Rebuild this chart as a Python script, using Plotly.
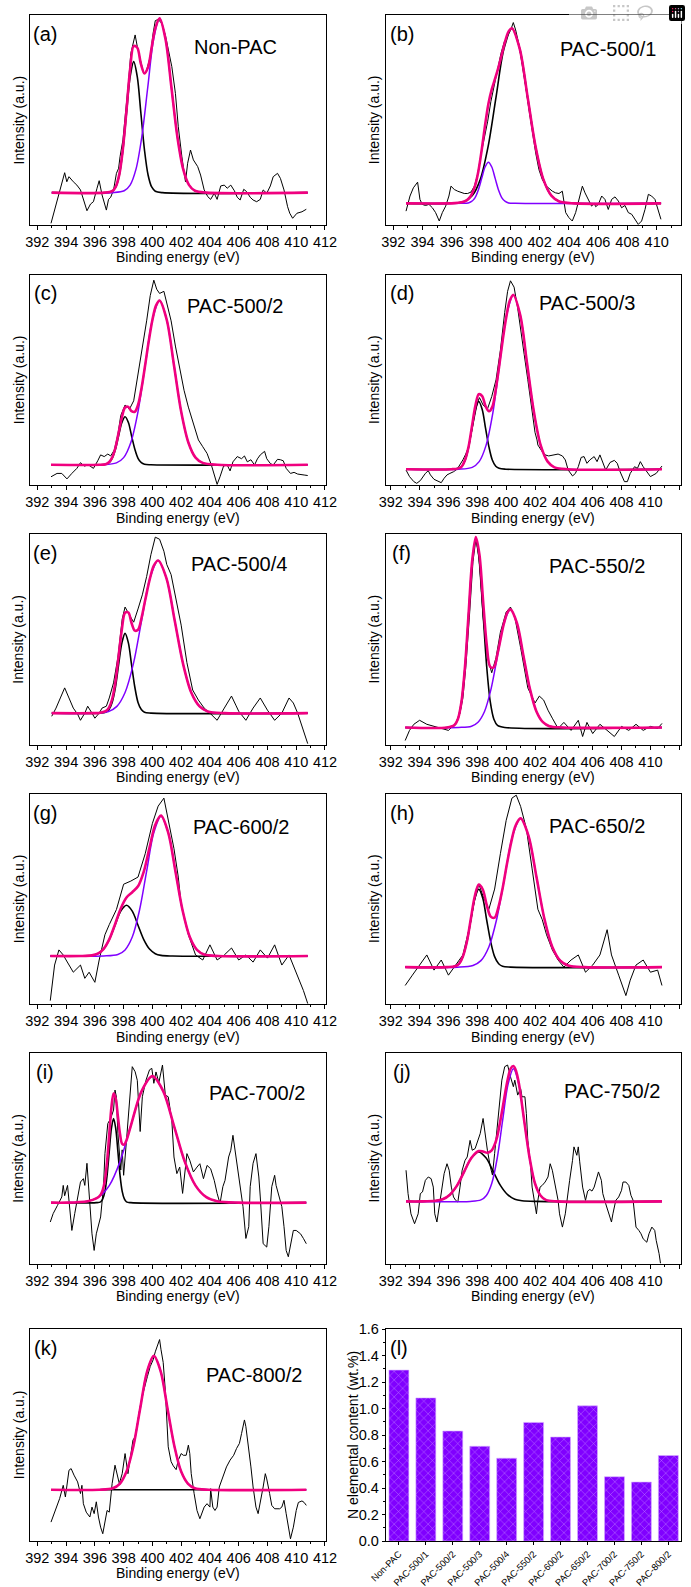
import plotly.graph_objects as go

# ---------------- data (binding energy eV, intensity in % of panel height) -------------
a_raw = [(392.95,0.8),(393.25,8.7),(393.55,16.7),(393.9,24.9),(394.05,20.6),(394.2,23.0),(394.5,20.6),(394.75,19.0),(395.0,16.7),(395.2,12.7),(395.45,6.8),(395.7,10.0),(395.9,11.1),(396.15,17.5),(396.3,21.1),(396.5,14.3),(396.65,10.3),(396.8,7.1),(396.95,12.2),(397.1,13.2),(397.3,16.7),(397.5,24.6),(397.65,27.0),(397.75,32.5),(397.95,40.5),(398.15,53.2),(398.35,69.0),(398.5,81.7),(398.7,88.1),(398.8,90.5),(398.95,84.9),(399.15,78.6),(399.4,71.9),(399.6,73.8),(399.85,80.2),(400.05,91.3),(400.2,97.3),(400.4,97.9),(400.65,96.0),(400.9,90.5),(401.1,83.3),(401.35,75.4),(401.6,62.7),(401.8,46.8),(402.05,32.5),(402.3,20.6),(402.45,29.4),(402.65,35.7),(402.85,31.0),(403.15,27.8),(403.35,23.8),(403.6,16.7),(403.85,13.5),(404.05,12.2),(404.3,15.1),(404.5,12.2),(404.75,18.6),(405.0,19.0),(405.2,17.5),(405.45,19.0),(405.7,16.3),(405.9,13.2),(406.1,11.9),(406.35,17.0),(406.55,15.9),(406.8,13.2),(407.0,11.9),(407.25,11.1),(407.5,12.2),(407.7,16.7),(407.95,15.1),(408.2,18.6),(408.4,23.0),(408.7,24.6),(408.9,22.2),(409.15,16.7),(409.4,8.7),(409.55,5.6),(409.75,3.2),(410.05,5.6),(410.4,6.3),(410.7,7.5)]
a_blk = [(393.0,15.4),(396.7,15.4),(397.2,16.1),(397.45,18.1),(397.7,23.8),(397.95,35.7),(398.2,53.2),(398.45,70.5),(398.7,77.8),(398.95,70.5),(399.2,53.2),(399.45,35.7),(399.7,23.8),(399.95,18.1),(400.2,16.1),(400.7,15.4),(410.8,15.4)]
a_pur = [(393.0,15.4),(397.22,15.4),(398.04,16.3),(398.45,19.0),(398.86,26.6),(399.27,42.3),(399.68,65.7),(400.09,88.6),(400.5,98.4),(400.91,88.6),(401.32,65.7),(401.73,42.3),(402.14,26.6),(402.55,19.0),(402.96,16.3),(403.78,15.4),(410.8,15.4)]
a_env = [(393.0,15.4),(396.7,15.4),(397.2,16.1),(397.45,18.2),(397.7,24.1),(397.95,36.4),(398.2,54.8),(398.45,74.1),(398.7,85.2),(398.95,84.4),(399.2,76.7),(399.45,72.2),(399.7,75.2),(399.95,84.5),(400.2,93.6),(400.5,98.4),(400.91,88.6),(401.32,65.7),(401.73,42.3),(402.14,26.6),(402.55,19.0),(402.96,16.3),(403.78,15.4),(410.8,15.4)]

b_raw = [(392.87,6.6),(393.14,13.8),(393.37,17.7),(393.66,20.4),(393.82,12.2),(393.98,9.8),(394.2,9.3),(394.44,9.8),(394.67,8.2),(394.89,5.9),(395.14,1.9),(395.35,5.9),(395.58,9.0),(395.8,13.8),(395.94,18.5),(396.17,16.9),(396.4,16.1),(396.62,15.7),(396.85,15.0),(397.08,15.0),(397.31,15.7),(397.54,18.5),(397.76,24.1),(397.99,33.5),(398.22,40.7),(398.45,49.4),(398.67,58.9),(398.9,66.8),(399.13,74.7),(399.36,81.8),(399.59,87.3),(399.81,90.5),(400.04,93.2),(400.2,96.4),(400.36,92.9),(400.59,85.8),(400.82,76.3),(401.04,66.0),(401.27,54.9),(401.5,43.8),(401.73,34.3),(401.95,26.4),(402.18,21.7),(402.41,18.8),(402.64,17.2),(402.87,16.1),(403.09,15.3),(403.32,15.0),(403.55,16.1),(403.64,12.2),(403.78,5.9),(404.0,3.5),(404.23,1.9),(404.46,5.9),(404.69,12.2),(404.92,18.5),(405.1,15.3),(405.33,12.2),(405.55,9.0),(405.74,10.3),(405.83,8.7),(406.01,9.8),(406.24,13.8),(406.46,12.2),(406.69,7.4),(406.92,12.2),(407.15,13.4),(407.38,11.4),(407.6,8.2),(407.83,9.3),(408.06,5.9),(408.29,5.1),(408.52,2.7),(408.74,0.3),(408.97,1.9),(409.2,7.4),(409.43,14.6),(409.65,13.8),(409.88,12.2),(410.11,7.4),(410.29,2.7)]
b_blk = [(392.87,10.3),(395.78,10.3),(396.86,11.2),(397.4,14.0),(397.94,21.6),(398.48,37.4),(399.02,60.9),(399.56,83.9),(400.1,93.7),(400.64,83.9),(401.18,60.9),(401.72,37.4),(402.26,21.6),(402.8,14.0),(403.34,11.2),(404.42,10.3),(410.3,10.3)]
b_pur = [(392.87,10.3),(396.66,10.3),(397.12,10.5),(397.35,11.2),(397.58,12.95),(397.81,16.7),(398.04,22.2),(398.27,27.6),(398.5,29.9),(398.73,27.6),(398.96,22.2),(399.19,16.7),(399.42,12.95),(399.65,11.2),(399.88,10.5),(400.34,10.3),(410.3,10.3)]
b_env = [(392.87,10.3),(396.2,10.4),(396.66,10.8),(396.89,11.3),(397.12,12.4),(397.35,14.5),(397.58,18.5),(397.81,25.5),(398.04,35.7),(398.27,47.5),(398.5,57.7),(398.73,64.7),(398.96,69.8),(399.19,75.2),(399.42,81.4),(399.65,87.7),(399.88,92.2),(400.1,93.7),(400.64,83.9),(401.18,60.9),(401.72,37.4),(402.26,21.6),(402.8,14.0),(403.34,11.2),(404.42,10.3),(410.3,10.3)]

c_raw = [(392.95,3.9),(393.37,5.5),(393.7,5.5),(394.06,2.9),(394.4,5.5),(394.75,7.9),(395.0,10.6),(395.26,9.0),(395.56,9.5),(395.9,7.9),(396.2,11.5),(396.4,14.3),(396.65,13.5),(396.9,14.7),(397.1,13.8),(397.35,16.6),(397.6,24.0),(397.8,33.0),(398.1,38.0),(398.4,36.0),(398.7,40.0),(399.0,52.7),(399.3,64.0),(399.6,78.0),(399.85,90.0),(400.1,97.3),(400.3,93.0),(400.5,91.0),(400.8,92.0),(401.0,86.0),(401.3,78.0),(401.6,66.0),(401.9,55.0),(402.2,45.0),(402.5,37.0),(402.8,30.0),(403.0,25.0),(403.2,21.4),(403.5,18.2),(403.8,15.0),(404.1,9.5),(404.35,3.9),(404.5,0.3),(404.7,3.9),(404.95,9.0),(405.2,9.5),(405.4,6.7),(405.6,11.0),(405.9,13.5),(406.2,12.5),(406.4,13.8),(406.6,11.0),(406.85,12.0),(407.1,9.5),(407.3,12.4),(407.5,14.3),(407.8,16.0),(407.95,12.5),(408.2,10.2),(408.4,9.5),(408.7,12.2),(408.9,12.0),(409.1,11.5),(409.3,7.9),(409.6,5.5),(409.85,6.0),(410.1,5.2),(410.6,4.7),(410.8,4.5)]
c_blk = [(392.95,9.6),(396.3,9.6),(396.75,9.85),(396.98,10.6),(397.2,12.7),(397.43,17.0),(397.65,23.4),(397.88,29.7),(398.1,32.4),(398.33,29.7),(398.55,23.4),(398.78,17.0),(399.0,12.7),(399.23,10.6),(399.45,9.85),(399.9,9.6),(410.8,9.6)]
c_pur = [(392.95,9.6),(396.5,9.6),(397.5,10.5),(398.0,13.0),(398.5,20.2),(399.0,34.9),(399.5,56.9),(400.0,78.4),(400.5,87.6),(401.0,78.4),(401.5,56.9),(402.0,34.9),(402.5,20.2),(403.0,13.0),(403.5,10.5),(404.5,9.6),(410.8,9.6)]
c_env = [(392.95,9.6),(396.3,9.6),(396.75,9.9),(396.98,10.8),(397.2,13.0),(397.43,17.7),(397.65,24.8),(397.88,32.2),(398.1,36.8),(398.33,37.1),(398.55,35.1),(398.78,34.8),(399.0,38.0),(399.25,46.2),(399.5,57.1),(399.75,68.5),(400.0,78.4),(400.25,85.2),(400.5,87.6),(401.0,78.4),(401.5,56.9),(402.0,34.9),(402.5,20.2),(403.0,13.0),(403.5,10.5),(404.5,9.6),(410.8,9.6)]

d_raw = [(393.06,7.1),(393.3,4.0),(393.6,1.6),(393.8,0.8),(394.05,2.1),(394.4,5.5),(394.6,6.8),(394.75,4.8),(395.0,2.7),(395.3,1.6),(395.5,1.1),(395.7,3.2),(395.9,4.8),(396.1,5.5),(396.35,6.3),(396.6,7.5),(396.8,9.5),(397.0,11.9),(397.2,14.7),(397.4,18.2),(397.6,25.0),(397.8,32.0),(398.0,39.0),(398.15,41.5),(398.4,38.0),(398.7,36.0),(399.0,42.0),(399.3,50.0),(399.6,64.0),(399.9,82.0),(400.1,92.0),(400.3,97.0),(400.55,94.0),(400.8,84.0),(401.0,75.0),(401.25,62.0),(401.5,50.0),(401.8,35.0),(402.0,25.0),(402.14,21.4),(402.2,19.0),(402.5,15.8),(402.7,14.3),(402.95,13.8),(403.3,14.3),(403.6,14.7),(403.9,13.8),(404.1,11.9),(404.3,7.1),(404.6,4.3),(404.8,5.5),(405.0,8.7),(405.2,13.1),(405.4,13.5),(405.6,10.3),(405.8,11.9),(406.1,13.5),(406.3,11.1),(406.5,14.3),(406.7,10.3),(406.9,7.1),(407.2,10.7),(407.5,11.7),(407.7,10.3),(407.9,6.3),(408.2,1.6),(408.4,1.6),(408.6,5.5),(408.9,8.7),(409.1,7.9),(409.3,11.1),(409.5,8.7),(409.8,5.5),(410.0,4.0),(410.4,5.5),(410.8,9.0)]
d_blk = [(393.06,7.5),(396.22,7.5),(396.69,7.9),(396.93,8.9),(397.16,11.9),(397.4,18.0),(397.63,27.0),(397.87,35.9),(398.1,39.7),(398.34,35.9),(398.57,27.0),(398.81,18.0),(399.04,11.9),(399.28,8.9),(399.51,7.9),(399.98,7.5),(410.8,7.5)]
d_pur = [(393.06,7.5),(396.7,7.5),(397.65,8.4),(398.13,11.1),(398.6,18.7),(399.08,34.4),(399.55,57.7),(400.03,80.6),(400.5,90.3),(400.98,80.6),(401.45,57.7),(401.93,34.4),(402.4,18.7),(402.88,11.1),(403.35,8.4),(404.3,7.5),(410.8,7.5)]
d_env = [(393.06,7.5),(396.22,7.5),(396.69,7.9),(396.93,8.9),(397.16,12.1),(397.4,18.4),(397.63,27.9),(397.87,37.7),(398.1,43.1),(398.34,42.2),(398.57,37.5),(398.81,35.0),(399.04,37.1),(399.28,45.4),(399.51,56.2),(399.75,68.3),(400.0,79.5),(400.25,87.5),(400.5,90.3),(400.98,80.6),(401.45,57.7),(401.93,34.4),(402.4,18.7),(402.88,11.1),(403.35,8.4),(404.3,7.5),(410.8,7.5)]

e_raw = [(393.0,13.4),(393.3,17.3),(393.6,22.1),(393.9,26.9),(394.2,22.1),(394.5,17.3),(394.8,14.4),(395.0,11.5),(395.3,14.9),(395.5,18.2),(395.8,14.9),(396.0,12.5),(396.3,14.9),(396.5,17.3),(396.8,18.2),(397.0,22.1),(397.3,29.3),(397.6,41.3),(397.9,59.6),(398.1,65.3),(398.4,61.5),(398.7,58.1),(399.0,64.4),(399.3,71.1),(399.6,79.8),(399.9,90.3),(400.2,98.5),(400.5,97.5),(400.8,91.8),(401.0,85.5),(401.3,80.7),(401.6,71.1),(402.0,56.7),(402.4,38.9),(402.8,25.9),(403.2,21.1),(403.6,17.3),(404.0,14.9),(404.5,11.5),(405.0,17.3),(405.5,23.0),(405.8,18.7),(406.0,15.8),(406.5,11.5),(407.0,17.3),(407.5,22.1),(408.0,16.3),(408.5,11.5),(409.0,14.9),(409.5,22.1),(409.8,19.7),(410.1,14.9),(410.4,8.6),(410.8,0.4)]
e_blk = [(393.0,14.9),(396.3,14.9),(396.75,15.3),(396.98,16.6),(397.2,20.0),(397.43,27.2),(397.65,37.9),(397.88,48.3),(398.1,52.8),(398.33,48.3),(398.55,37.9),(398.78,27.2),(399.0,20.0),(399.23,16.6),(399.45,15.3),(399.9,14.9),(410.8,14.9)]
e_pur = [(393.0,14.9),(395.8,14.9),(396.95,15.7),(397.53,18.1),(398.1,24.7),(398.68,38.4),(399.25,58.9),(399.83,78.9),(400.4,87.4),(400.98,78.9),(401.55,58.9),(402.13,38.4),(402.7,24.7),(403.28,18.1),(403.85,15.7),(405.0,14.9),(410.8,14.9)]
e_env = [(393.0,14.9),(395.8,14.9),(396.3,15.0),(396.75,15.8),(396.98,17.5),(397.2,21.5),(397.43,29.8),(397.65,42.0),(397.88,54.9),(398.1,62.6),(398.33,62.7),(398.55,57.7),(398.78,54.1),(399.0,54.5),(399.25,60.3),(399.5,68.6),(399.83,78.9),(400.1,85.0),(400.4,87.4),(400.98,78.9),(401.55,58.9),(402.13,38.4),(402.7,24.7),(403.28,18.1),(403.85,15.7),(405.0,14.9),(410.8,14.9)]

f_raw = [(393.0,1.9),(393.3,6.7),(393.6,9.6),(394.0,11.5),(394.5,9.6),(395.0,8.6),(395.5,7.6),(396.0,6.7),(396.5,10.0),(396.8,14.9),(397.0,22.1),(397.2,36.5),(397.45,60.5),(397.7,86.9),(397.9,97.5),(398.1,89.4),(398.4,60.5),(398.7,41.3),(399.0,34.1),(399.3,41.3),(399.6,53.3),(400.0,62.9),(400.3,65.3),(400.6,60.5),(401.0,46.1),(401.5,26.9),(402.0,19.7),(402.3,23.0),(402.6,21.1),(402.9,16.3),(403.2,12.5),(403.6,7.6),(404.0,10.5),(404.5,6.7),(405.0,11.5),(405.3,3.8),(405.6,10.5),(406.0,5.2),(406.5,9.6),(407.0,6.7),(407.5,3.8),(408.0,8.6),(408.5,6.7),(409.0,9.6),(409.5,6.7),(410.0,8.6),(410.5,7.6),(410.8,10.0)]
f_blk = [(393.0,8.1),(395.9,8.1),(396.4,9.1),(396.65,12.0),(396.9,20.2),(397.15,37.1),(397.4,62.3),(397.65,86.9),(397.9,97.4),(398.15,86.9),(398.4,62.3),(398.65,37.1),(398.9,20.2),(399.15,12.0),(399.4,9.1),(399.9,8.1),(410.8,8.1)]
f_pur = [(393.0,8.1),(396.7,8.1),(397.6,8.7),(398.05,10.6),(398.5,15.7),(398.95,26.3),(399.4,42.1),(399.85,57.6),(400.3,64.2),(400.75,57.6),(401.2,42.1),(401.65,26.3),(402.1,15.7),(402.55,10.6),(403.0,8.7),(403.9,8.1),(410.8,8.1)]
f_env = [(393.0,8.1),(395.9,8.1),(396.4,9.1),(396.65,12.0),(396.9,20.2),(397.15,37.2),(397.4,62.6),(397.65,87.6),(397.9,98.6),(398.15,90.1),(398.4,68.3),(398.65,47.6),(398.9,36.9),(399.15,36.7),(399.4,43.1),(399.6,49.7),(399.85,57.6),(400.1,62.9),(400.3,64.2),(400.75,57.6),(401.2,42.1),(401.65,26.3),(402.1,15.7),(402.55,10.6),(403.0,8.7),(403.9,8.1),(410.8,8.1)]

g_raw = [(392.9,1.6),(393.2,18.5),(393.5,25.7),(393.8,23.3),(394.0,20.9),(394.5,15.1),(395.0,18.5),(395.3,12.2),(395.6,15.1),(396.0,10.3),(396.3,20.9),(396.7,32.9),(397.0,37.7),(397.5,44.9),(398.0,56.9),(398.5,58.4),(399.0,60.3),(399.5,71.4),(400.0,85.8),(400.4,94.0),(400.8,97.8),(401.1,88.2),(401.5,73.8),(401.8,60.3),(402.0,47.3),(402.5,32.9),(403.0,23.3),(403.5,20.9),(404.0,28.1),(404.5,20.9),(405.0,23.3),(405.5,26.6),(406.0,20.9),(406.5,23.3),(407.0,19.9),(407.5,25.7),(408.0,21.8),(408.5,28.1),(409.0,18.5),(409.5,23.3),(410.0,15.1),(410.5,6.4),(410.8,0.2)]
g_blk = [(392.9,22.8),(395.0,22.8),(395.8,23.1),(396.2,23.9),(396.6,26.1),(397.0,30.6),(397.4,37.4),(397.8,44.1),(398.2,46.9),(398.6,44.1),(399.0,37.4),(399.4,30.6),(399.8,26.1),(400.2,23.9),(400.6,23.1),(401.4,22.8),(410.8,22.8)]
g_pur = [(392.9,22.8),(396.6,22.8),(397.6,23.5),(398.1,25.7),(398.6,31.8),(399.1,44.4),(399.6,63.1),(400.1,81.4),(400.6,89.2),(401.1,81.4),(401.6,63.1),(402.1,44.4),(402.6,31.8),(403.1,25.7),(403.6,23.5),(404.6,22.8),(410.8,22.8)]
g_env = [(392.9,22.8),(395.0,22.8),(395.8,23.1),(396.2,23.9),(396.6,26.1),(397.0,30.7),(397.4,37.8),(397.8,45.4),(398.2,50.6),(398.6,53.1),(399.0,55.9),(399.4,62.9),(399.8,74.3),(400.2,85.2),(400.6,89.5),(401.1,81.4),(401.6,63.1),(402.1,44.4),(402.6,31.8),(403.1,25.7),(403.6,23.5),(404.6,22.8),(410.8,22.8)]

h_raw = [(393.0,8.8),(393.3,12.0),(393.5,13.7),(394.0,18.5),(394.5,23.3),(395.0,16.1),(395.5,20.9),(396.0,13.7),(396.5,18.5),(397.0,23.3),(397.5,37.7),(397.8,48.8),(398.1,57.0),(398.4,51.2),(398.8,45.0),(399.2,54.6),(399.6,71.4),(400.0,87.2),(400.4,97.8),(400.7,99.2),(401.0,93.9),(401.4,83.4),(401.8,64.2),(402.2,45.0),(402.5,40.1),(402.8,32.9),(403.2,25.7),(403.6,20.9),(404.0,17.5),(404.5,20.9),(405.0,23.3),(405.5,15.1),(406.0,18.5),(406.5,23.3),(407.0,35.3),(407.3,23.3),(407.8,13.7),(408.3,4.0),(408.6,11.3),(409.0,18.5),(409.5,20.9),(410.0,15.1),(410.5,16.1),(410.8,8.8)]
h_blk = [(393.0,17.5),(395.9,17.5),(396.45,17.9),(396.73,19.1),(397.0,22.5),(397.28,29.5),(397.55,39.9),(397.83,50.2),(398.1,54.5),(398.38,50.2),(398.65,39.9),(398.93,29.5),(399.2,22.5),(399.48,19.1),(399.75,17.9),(400.3,17.5),(410.8,17.5)]
h_pur = [(393.0,17.5),(396.6,17.5),(397.7,18.3),(398.25,20.6),(398.8,27.1),(399.35,40.5),(399.9,60.4),(400.45,79.9),(401.0,88.2),(401.55,79.9),(402.1,60.4),(402.65,40.5),(403.2,27.1),(403.75,20.6),(404.3,18.3),(405.4,17.5),(410.8,17.5)]
h_env = [(393.0,17.5),(395.9,17.5),(396.45,17.9),(396.73,19.1),(397.0,22.6),(397.28,29.7),(397.55,40.4),(397.83,51.3),(398.1,56.7),(398.38,54.4),(398.65,47.1),(398.93,41.5),(399.2,41.0),(399.48,46.4),(399.75,54.8),(400.05,66.4),(400.35,76.9),(400.65,84.7),(401.0,88.2),(401.55,79.9),(402.1,60.4),(402.65,40.5),(403.2,27.1),(403.75,20.6),(404.3,18.3),(405.4,17.5),(410.8,17.5)]

i_raw = [(392.9,19.7),(393.1,23.7),(393.4,27.6),(393.7,31.6),(393.8,37.1),(393.9,32.2),(394.1,37.1),(394.2,30.0),(394.4,15.7),(394.6,23.7),(394.75,30.0),(395.0,38.7),(395.2,40.3),(395.3,37.1),(395.45,47.6),(395.6,34.9),(395.8,14.1),(395.95,6.2),(396.1,14.1),(396.4,22.1),(396.6,36.5),(396.7,52.2),(396.9,66.5),(397.1,68.9),(397.3,72.9),(397.4,82.4),(397.5,79.0),(397.6,61.9),(397.8,44.4),(397.9,54.0),(398.0,41.9),(398.2,58.6),(398.4,77.6),(398.6,93.5),(398.8,91.1),(398.95,87.0),(399.15,62.7),(399.3,79.2),(399.55,87.0),(399.8,92.0),(399.96,92.7),(400.1,85.6),(400.25,91.0),(400.45,86.0),(400.7,94.3),(400.9,80.0),(401.1,79.2),(401.35,68.0),(401.5,50.6),(401.7,42.7),(401.9,45.8),(402.1,33.3),(402.3,45.8),(402.4,52.2),(402.6,49.0),(402.85,43.5),(403.1,45.8),(403.3,47.4),(403.55,40.3),(403.8,46.6),(404.05,45.0),(404.3,39.5),(404.5,33.3),(404.7,28.5),(404.9,36.5),(405.05,39.5),(405.3,50.6),(405.45,53.8),(405.6,60.9),(405.8,50.6),(406.0,42.7),(406.15,34.9),(406.3,27.0),(406.5,11.9),(406.7,17.5),(406.8,36.5),(407.0,47.6),(407.2,52.2),(407.4,41.1),(407.5,31.6),(407.7,9.4),(407.95,7.8),(408.1,17.5),(408.3,36.5),(408.5,41.9),(408.6,37.1),(408.8,31.6),(409.0,27.0),(409.15,17.5),(409.3,6.2),(409.45,3.2),(409.6,9.4),(409.8,15.7),(410.0,15.7),(410.3,14.1),(410.5,11.9),(410.7,9.4)]
i_blk = [(392.95,28.9),(396.1,28.9),(396.4,29.3),(396.55,30.7),(396.7,34.3),(396.85,41.9),(397.0,53.2),(397.15,64.2),(397.3,68.9),(397.45,64.2),(397.6,53.2),(397.75,41.9),(397.9,34.3),(398.05,30.7),(398.2,29.3),(398.5,28.9),(410.7,28.9)]
i_pur = [(392.95,28.9),(394.0,28.9),(395.5,29.6),(396.25,31.5),(397.0,37.0),(397.75,48.4),(398.5,65.4),(399.25,81.9),(400.0,89.0),(400.75,81.9),(401.5,65.4),(402.25,48.4),(403.0,37.0),(403.75,31.5),(404.5,29.6),(406.0,28.9),(410.7,28.9)]
i_env = [(392.95,28.9),(394.0,28.9),(395.5,29.6),(396.1,30.9),(396.4,32.7),(396.55,35.0),(396.7,39.6),(396.85,48.5),(397.0,61.3),(397.15,74.1),(397.3,80.8),(397.45,78.4),(397.6,69.9),(397.75,61.4),(397.9,56.8),(398.05,56.5),(398.2,58.6),(398.5,65.4),(399.25,81.9),(400.0,89.0),(400.75,81.9),(401.5,65.4),(402.25,48.4),(403.0,37.0),(403.75,31.5),(404.5,29.6),(406.0,28.9),(410.7,28.9)]

j_raw = [(393.06,44.3),(393.2,33.2),(393.4,23.6),(393.65,18.9),(393.9,23.6),(394.05,33.2),(394.2,34.0),(394.4,39.5),(394.6,41.1),(394.8,40.3),(394.95,36.3),(395.05,23.6),(395.2,19.7),(395.35,26.8),(395.5,33.2),(395.7,42.7),(395.9,47.4),(396.05,44.3),(396.2,36.3),(396.35,31.6),(396.5,30.0),(396.65,29.2),(396.8,36.3),(396.95,44.3),(397.15,49.0),(397.3,50.6),(397.5,58.5),(397.65,53.8),(397.85,54.6),(398.0,57.8),(398.2,61.7),(398.4,68.9),(398.5,63.3),(398.7,53.8),(398.9,46.0),(399.05,42.0),(399.2,52.2),(399.4,64.9),(399.6,77.6),(399.7,87.1),(399.9,93.5),(400.1,94.3),(400.3,88.7),(400.5,84.0),(400.6,87.1),(400.8,80.0),(401.0,83.2),(401.1,79.2),(401.3,79.2),(401.4,71.3),(401.5,58.5),(401.7,46.0),(401.8,36.3),(402.0,26.8),(402.1,23.6),(402.2,30.0),(402.35,36.3),(402.5,37.1),(402.7,38.7),(402.9,41.1),(403.05,47.4),(403.2,44.3),(403.4,36.3),(403.6,30.0),(403.7,23.6),(403.9,17.3),(404.1,23.6),(404.25,33.2),(404.4,39.5),(404.6,49.0),(404.7,55.4),(404.9,51.4),(405.0,55.4),(405.1,48.3),(405.3,36.3),(405.5,30.0),(405.65,34.4),(405.8,35.2),(405.95,34.4),(406.1,36.3),(406.3,41.1),(406.4,43.5),(406.6,39.5),(406.7,33.2),(406.9,28.4),(407.1,23.6),(407.3,19.7),(407.4,23.6),(407.6,30.0),(407.8,31.6),(408.0,34.8),(408.1,38.7),(408.3,38.7),(408.5,37.1),(408.65,32.4),(408.8,30.0),(409.0,17.3),(409.2,15.7),(409.35,14.1),(409.5,11.7),(409.75,10.1),(409.9,14.1),(410.1,17.3),(410.3,15.7),(410.4,11.0),(410.6,4.7),(410.7,0.0)]
j_blk = [(393.06,29.5),(394.1,29.5),(395.1,29.8),(395.6,30.5),(396.1,32.7),(396.6,37.1),(397.1,43.8),(397.6,50.2),(398.1,53.0),(398.6,50.2),(399.1,43.8),(399.6,37.1),(400.1,32.7),(400.6,30.5),(401.1,29.8),(402.1,29.5),(410.8,29.5)]
j_pur = [(393.06,29.5),(397.5,29.5),(398.25,30.2),(398.63,32.3),(399.0,38.0),(399.38,50.0),(399.75,67.7),(400.13,85.1),(400.5,92.5),(400.88,85.1),(401.25,67.7),(401.63,50.0),(402.0,38.0),(402.38,32.3),(402.75,30.2),(403.5,29.5),(410.8,29.5)]
j_env = [(393.06,29.5),(394.1,29.5),(395.1,29.8),(395.6,30.5),(396.1,32.7),(396.6,37.1),(397.1,43.8),(397.6,50.2),(398.1,53.4),(398.4,53.2),(398.7,52.6),(399.0,53.7),(399.2,56.4),(399.38,60.3),(399.56,66.4),(399.75,73.7),(399.94,81.4),(400.13,88.1),(400.31,92.6),(400.5,93.8),(400.69,91.4),(400.88,85.6),(401.06,77.4),(401.25,67.9),(401.63,50.0),(402.0,38.0),(402.38,32.3),(402.75,30.2),(403.5,29.5),(410.8,29.5)]

k_raw = [(392.95,8.7),(393.25,14.2),(393.55,19.8),(393.8,26.1),(393.95,20.6),(394.2,33.2),(394.35,34.0),(394.55,30.9),(394.8,27.7),(395.0,22.2),(395.1,26.1),(395.2,17.4),(395.4,13.4),(395.65,11.1),(395.8,15.8),(395.95,12.7),(396.1,18.3),(396.25,11.1),(396.4,6.3),(396.55,3.2),(396.7,7.9),(396.85,14.2),(397.0,13.4),(397.2,26.9),(397.4,35.6),(397.55,30.4),(397.7,26.9),(397.9,31.6),(398.1,41.1),(398.3,31.6),(398.45,37.9),(398.65,47.5),(398.8,49.0),(399.0,57.9),(399.15,63.3),(399.35,69.6),(399.5,74.4),(399.65,77.5),(399.85,82.3),(400.05,85.4),(400.2,89.2),(400.35,91.8),(400.5,95.0),(400.6,90.2),(400.75,84.2),(400.9,70.9),(401.0,57.0),(401.1,44.3),(401.3,37.3),(401.45,35.3),(401.65,33.5),(401.8,38.0),(402.0,41.1),(402.15,40.3),(402.35,40.3),(402.5,45.1),(402.6,41.1),(402.7,31.6),(402.9,22.2),(403.1,14.2),(403.3,10.3),(403.45,13.4),(403.6,15.8),(403.8,17.4),(404.0,15.8),(404.05,24.5),(404.2,15.8),(404.35,14.2),(404.5,15.8),(404.65,25.3),(404.8,28.5),(405.0,31.6),(405.15,34.8),(405.4,38.0),(405.65,40.3),(405.85,43.5),(406.05,45.9),(406.2,50.6),(406.4,57.0),(406.5,53.8),(406.7,44.3),(406.85,34.8),(407.0,25.3),(407.2,15.8),(407.35,12.7),(407.55,19.0),(407.7,25.3),(407.85,31.6),(407.95,29.1),(408.15,22.2),(408.3,16.6),(408.5,15.0),(408.65,15.0),(408.85,15.0),(409.0,15.8),(409.15,19.0),(409.3,12.7),(409.45,6.3),(409.6,0.8),(409.8,6.3),(410.0,14.2),(410.15,18.0),(410.4,18.7),(410.55,18.0),(410.7,16.6)]
k_blk = [(392.95,24.0),(410.7,24.0)]
k_pur = [(392.95,24.0),(396.3,24.0),(397.25,24.7),(397.73,26.8),(398.2,32.6),(398.68,44.6),(399.15,62.4),(399.63,79.9),(400.1,87.3),(400.58,79.9),(401.05,62.4),(401.53,44.6),(402.0,32.6),(402.48,26.8),(402.95,24.7),(403.9,24.0),(410.7,24.0)]
k_env = [(392.95,24.0),(396.3,24.0),(397.25,24.7),(397.73,26.8),(398.2,32.6),(398.68,44.6),(399.15,62.4),(399.63,79.9),(400.1,87.3),(400.58,79.9),(401.05,62.4),(401.53,44.6),(402.0,32.6),(402.48,26.8),(402.95,24.7),(403.9,24.0),(410.7,24.0)]

samples = ["Non-PAC", "PAC-500/1", "PAC-500/2", "PAC-500/3", "PAC-500/4", "PAC-550/2",
           "PAC-600/2", "PAC-650/2", "PAC-700/2", "PAC-750/2", "PAC-800/2"]
n_content = [1.29, 1.08, 0.83, 0.715, 0.625, 0.895, 0.785, 1.02, 0.485, 0.445, 0.645]

panel_letters = ["(a)", "(b)", "(c)", "(d)", "(e)", "(f)", "(g)", "(h)", "(i)", "(j)", "(k)", "(l)"]
panel_names = ["Non-PAC", "PAC-500/1", "PAC-500/2", "PAC-500/3", "PAC-500/4", "PAC-550/2",
               "PAC-600/2", "PAC-650/2", "PAC-700/2", "PAC-750/2", "PAC-800/2"]
energy_ticks = [392, 394, 396, 398, 400, 402, 404, 406, 408, 410, 412]

# ---------------- layout geometry (pixels) ----------------
W, H = 691, 1587
FONT = "Liberation Sans, Arial, sans-serif"
BLACK = "#000000"
PURPLE = "#8000FF"
MAGENTA = "#F0007F"


def fx(p):
    return p / W


def fy(p):
    return 1 - p / H


COLS = [(30, 326), (385.7, 681)]
ROWS = [(15, 225), (274.5, 485), (534, 744.5), (793.5, 1004), (1053, 1263.5), (1329, 1540.5)]
XRANGE = [[391.49, 412.07], [391.65, 412.12]]
XRANGE_B = [391.48, 411.66]
# name label (centre x px, offset from panel top px)
NAME_POS = [(235, 32), (608, 34), (235, 31), (587, 29), (239, 30), (597, 32),
            (241, 33), (597, 32), (257, 40), (612, 38), (254, 46)]

spectra = [
    (a_raw, a_blk, a_pur, a_env), (b_raw, b_blk, b_pur, b_env),
    (c_raw, c_blk, c_pur, c_env), (d_raw, d_blk, d_pur, d_env),
    (e_raw, e_blk, e_pur, e_env), (f_raw, f_blk, f_pur, f_env),
    (g_raw, g_blk, g_pur, g_env), (h_raw, h_blk, h_pur, h_env),
    (i_raw, i_blk, i_pur, i_env), (j_raw, j_blk, j_pur, j_env),
    (k_raw, k_blk, k_pur, k_env),
]

fig = go.Figure()
annotations = []
layout_axes = {}


def xs(pts):
    return [p[0] for p in pts]


def ys(pts):
    return [p[1] for p in pts]


for idx, (raw, blk, pur, env) in enumerate(spectra):
    n = idx + 1
    col = idx % 2
    row = idx // 2
    x0, x1 = COLS[col]
    y0, y1 = ROWS[row]
    xa = "x" if n == 1 else f"x{n}"
    ya = "y" if n == 1 else f"y{n}"

    fig.add_trace(go.Scatter(x=xs(raw), y=ys(raw), mode="lines", xaxis=xa, yaxis=ya,
                             line=dict(color=BLACK, width=1), showlegend=False))
    fig.add_trace(go.Scatter(x=xs(blk), y=ys(blk), mode="lines", xaxis=xa, yaxis=ya,
                             line=dict(color=BLACK, width=1.6, shape="spline", smoothing=0.9),
                             showlegend=False))
    fig.add_trace(go.Scatter(x=xs(pur), y=ys(pur), mode="lines", xaxis=xa, yaxis=ya,
                             line=dict(color=PURPLE, width=1.5, shape="spline", smoothing=0.9),
                             showlegend=False))
    fig.add_trace(go.Scatter(x=xs(env), y=ys(env), mode="lines", xaxis=xa, yaxis=ya,
                             line=dict(color=MAGENTA, width=2.6, shape="spline", smoothing=0.9),
                             showlegend=False))

    xr = XRANGE_B if idx == 1 else XRANGE[col]
    layout_axes["xaxis" if n == 1 else f"xaxis{n}"] = dict(
        domain=[fx(x0), fx(x1)], range=xr, anchor=ya,
        showline=True, mirror=True, linecolor=BLACK, linewidth=1,
        ticks="outside", ticklen=4, tickwidth=1, tickcolor=BLACK,
        tickmode="array", tickvals=energy_ticks,
        minor=dict(ticks="outside", ticklen=2, tickwidth=1, tickcolor=BLACK, dtick=1, tick0=392),
        tickfont=dict(family=FONT, size=14.5, color=BLACK),
        showgrid=False, zeroline=False, fixedrange=True,
    )
    layout_axes["yaxis" if n == 1 else f"yaxis{n}"] = dict(
        domain=[fy(y1), fy(y0)], range=[0, 100], anchor=xa,
        showline=True, mirror=True, linecolor=BLACK, linewidth=1,
        showticklabels=False, ticks="", showgrid=False, zeroline=False, fixedrange=True,
    )
    # panel letter
    annotations.append(dict(text=panel_letters[idx], xref="paper", yref="paper",
                            x=fx(x0 + 15 if col == 0 else x0 + 16), y=fy(y0 + 19),
                            xanchor="center", yanchor="middle", showarrow=False,
                            font=dict(family=FONT, size=20, color=BLACK)))
    nx, noff = NAME_POS[idx]
    annotations.append(dict(text=panel_names[idx], xref="paper", yref="paper",
                            x=fx(nx), y=fy(y0 + noff), xanchor="center", yanchor="middle",
                            showarrow=False, font=dict(family=FONT, size=20, color=BLACK)))
    # axis titles
    annotations.append(dict(text="Binding energy (eV)", xref="paper", yref="paper",
                            x=fx((x0 + x1) / 2), y=fy(y1 + 32.5), xanchor="center", yanchor="middle",
                            showarrow=False, font=dict(family=FONT, size=14, color=BLACK)))
    annotations.append(dict(text="Intensity (a.u.)", xref="paper", yref="paper",
                            x=fx(x0 - 11.5), y=fy((y0 + y1) / 2), xanchor="center", yanchor="middle",
                            textangle=-90, showarrow=False,
                            font=dict(family=FONT, size=14, color=BLACK)))

# ---------------- bar panel (l) ----------------
bx0, bx1 = COLS[1]
by0, by1 = 1329, 1541
fig.add_trace(go.Bar(
    x=samples, y=n_content, xaxis="x12", yaxis="y12", width=0.74, showlegend=False,
    marker=dict(color=PURPLE, line=dict(color="#D8B0FF", width=0.6),
                pattern=dict(shape="x", fgcolor="white", bgcolor=PURPLE, size=6, solidity=0.15)),
))
layout_axes["xaxis12"] = dict(
    domain=[fx(bx0), fx(bx1)], range=[-0.49, 10.47], anchor="y12", type="category",
    showline=True, mirror=True, linecolor=BLACK, linewidth=1,
    ticks="outside", ticklen=3, tickcolor=BLACK, tickangle=-45,
    tickfont=dict(family=FONT, size=9.3, color=BLACK), showgrid=False, zeroline=False,
    fixedrange=True,
)
layout_axes["yaxis12"] = dict(
    domain=[fy(by1), fy(by0)], range=[0, 1.6], anchor="x12",
    showline=True, mirror=True, linecolor=BLACK, linewidth=1,
    tickmode="linear", tick0=0, dtick=0.2, tickformat=".1f",
    ticks="outside", ticklen=3, tickcolor=BLACK,
    minor=dict(ticks="outside", ticklen=2, dtick=0.1, tickcolor=BLACK),
    tickfont=dict(family=FONT, size=14.5, color=BLACK), showgrid=False, zeroline=False,
    fixedrange=True,
)
annotations.append(dict(text="(l)", xref="paper", yref="paper", x=fx(399), y=fy(by0 + 19),
                        xanchor="center", yanchor="middle", showarrow=False,
                        font=dict(family=FONT, size=20, color=BLACK)))
annotations.append(dict(text="N elemental content (wt.%)", xref="paper", yref="paper",
                        x=fx(353), y=fy((by0 + by1) / 2), xanchor="center", yanchor="middle",
                        textangle=-90, showarrow=False,
                        font=dict(family=FONT, size=14, color=BLACK)))

fig.update_layout(
    width=W, height=H,
    margin=dict(l=0, r=0, t=0, b=0, autoexpand=False),
    paper_bgcolor="white", plot_bgcolor="white",
    showlegend=False, annotations=annotations,
    font=dict(family=FONT, color=BLACK),
    **layout_axes,
)

fig.write_html("out.html", post_script="document.body.style.margin='0';")
